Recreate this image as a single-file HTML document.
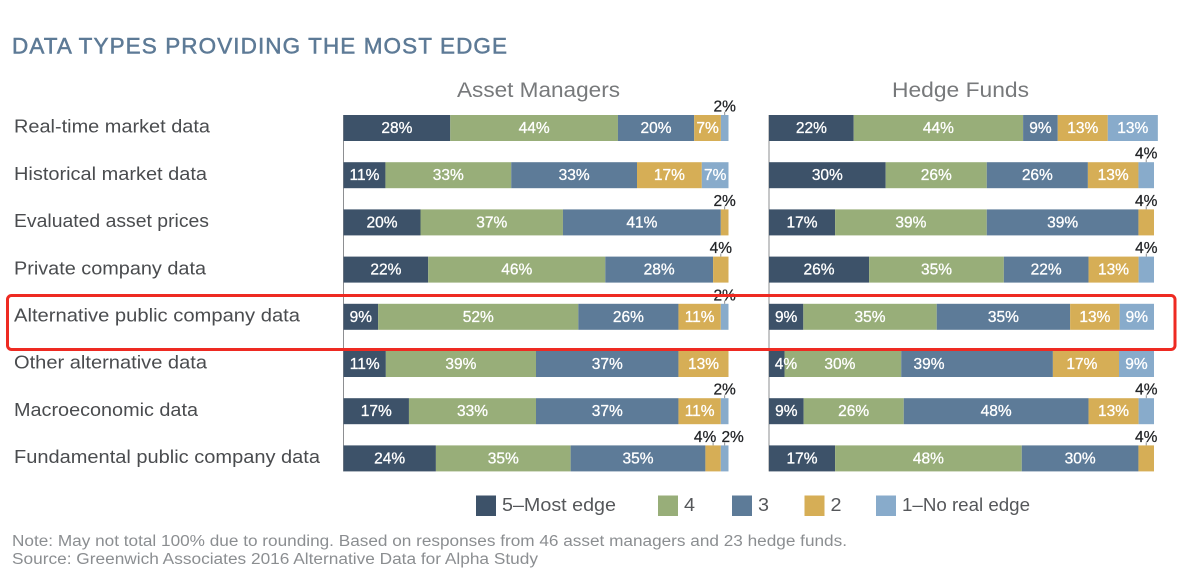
<!DOCTYPE html>
<html lang="en">
<head>
<meta charset="utf-8">
<title>Data types providing the most edge</title>
<style>
  html, body { margin: 0; padding: 0; background: #fff; }
  body { width: 1200px; height: 584px; overflow: hidden; }
  svg { display: block; font-family: "Liberation Sans", sans-serif; }
</style>
</head>
<body>
<svg id="chart" xmlns="http://www.w3.org/2000/svg" width="1200" height="584" viewBox="0 0 1200 584">
  <rect width="1200" height="584" fill="#ffffff"/>
  <text x="12" y="53.5" font-size="22.5" fill="#5d7a96" stroke="#5d7a96" stroke-width="0.5" textLength="495" lengthAdjust="spacing">DATA TYPES PROVIDING THE MOST EDGE</text>
  <text x="457" y="97" font-size="21" fill="#77797b" textLength="163" lengthAdjust="spacingAndGlyphs">Asset Managers</text>
  <text x="892" y="97" font-size="21" fill="#77797b" textLength="137" lengthAdjust="spacingAndGlyphs">Hedge Funds</text>
  <g id="rows"></g>
  <g id="panels"></g>
  <g id="legend"></g>
  <rect x="7.5" y="295.5" width="1167.5" height="54" rx="4" ry="4" fill="none" stroke="#ee2a22" stroke-width="3"/>
  <text x="12" y="546" font-size="15.5" fill="#8b8e91" textLength="835" lengthAdjust="spacingAndGlyphs">Note: May not total 100% due to rounding. Based on responses from 46 asset managers and 23 hedge funds.</text>
  <text x="12" y="564" font-size="15.5" fill="#8b8e91" textLength="526" lengthAdjust="spacingAndGlyphs">Source: Greenwich Associates 2016 Alternative Data for Alpha Study</text>
</svg>
<script>
const categories = ["Real-time market data", "Historical market data", "Evaluated asset prices", "Private company data", "Alternative public company data", "Other alternative data", "Macroeconomic data", "Fundamental public company data"];
const seriesNames = ["5–Most edge", "4", "3", "2", "1–No real edge"];
const seriesColors = ["#3d5269", "#98ae79", "#5d7b98", "#d6ae56", "#88abcb"];

// Each row lists the five ratings in series order; 0 = no segment.
const assetManagers = [
  [28, 44, 20, 7, 2],
  [11, 33, 33, 17, 7],
  [20, 37, 41, 2, 0],
  [22, 46, 28, 4, 0],
  [9, 52, 26, 11, 2],
  [11, 39, 37, 13, 0],
  [17, 33, 37, 11, 2],
  [24, 35, 35, 4, 2]
];
const hedgeFunds = [
  [22, 44, 9, 13, 13],
  [30, 26, 26, 13, 4],
  [17, 39, 39, 4, 0],
  [26, 35, 22, 13, 4],
  [9, 35, 35, 13, 9],
  [4, 30, 39, 17, 9],
  [9, 26, 48, 13, 4],
  [17, 48, 30, 4, 0]
];
// Share of the axis each stacked row reaches, as drawn in the source chart.
const assetManagerRowReach = [100, 100, 100, 100, 100, 100, 100, 100];
const hedgeFundRowReach = [101, 100, 100, 100, 100, 100, 100, 100];

const NS = "http://www.w3.org/2000/svg";
const AXIS_WIDTH = 385, ROW_TOP = 115, ROW_STEP = 47.2, BAR_H = 26;

function make(tag, attrs, parent, text) {
  const el = document.createElementNS(NS, tag);
  for (const k in attrs) el.setAttribute(k, attrs[k]);
  if (text !== undefined) el.textContent = text;
  parent.appendChild(el);
  return el;
}
function rowY(i) { return ROW_TOP + i * ROW_STEP; }
function slug(s) { return s.toLowerCase().replace(/[^a-z0-9]+/g, "-"); }

function drawRowLabels() {
  const rowsG = document.getElementById("rows");
  const fittedWidths = [196, 193, 195, 192, 286, 193, 184, 306];
  categories.forEach(function (name, i) {
    const label = make("text", {
      x: 14, y: rowY(i) + 17.7, textLength: fittedWidths[i],
      lengthAdjust: "spacingAndGlyphs", "font-size": 18, fill: "#4a4c4f"
    }, rowsG, name);
    
    
  });
}
drawRowLabels();

function drawPanel(panelName, x0, rows, reach, nudgeFor) {
  const panelsG = document.getElementById("panels");
  const g = make("g", {}, panelsG);
  
  

  const axis = make("line", {
    x1: x0, x2: x0, y1: rowY(0), y2: rowY(rows.length - 1) + BAR_H,
    stroke: "#8d8f92", "stroke-width": 1
  }, g);
  
  

  rows.forEach(function (values, r) {
    const total = values.reduce(function (a, b) { return a + b; }, 0);
    const x = function (v) { return x0 + (v / total) * AXIS_WIDTH * reach[r] / 100; };
    const y = rowY(r);
    let cum = 0;
    const isOutside = function (idx) { return idx > 0 && values[idx] > 0 && values[idx] <= 4; };
    values.forEach(function (v, s) {
      if (v <= 0) return;
      const xa = x(cum), xb = x(cum + v);
      cum += v;
      const bar = make("rect", {
        x: xa, y: y, width: xb - xa, height: BAR_H, fill: seriesColors[s]
      }, g);
      
      
    });
    cum = 0;
    values.forEach(function (v, s) {
      if (v <= 0) return;
      const xa = x(cum), xb = x(cum + v);
      cum += v;
      const cx = (xa + xb) / 2;
      if (isOutside(s)) {
        let spread = 0;
        if (s > 0 && isOutside(s - 1)) spread = 8;
        if (s < values.length - 1 && isOutside(s + 1)) spread = -8;
        const tick = make("line", {
          x1: cx, x2: cx, y1: y - 3, y2: y, stroke: "#8d8f92", "stroke-width": 1
        }, g);
        
        
        const out = make("text", {
          x: cx + spread, y: y - 3.5, "text-anchor": "middle",
          "font-size": 15.5, fill: "#222427", stroke: "#222427", "stroke-width": 0.25
        }, g, v + "%");
        
        
      } else {
        const inner = make("text", {
          x: Math.max(cx, x0 + 17) + nudgeFor(r, s), y: y + 18, "text-anchor": "middle",
          "font-size": 15.5, fill: "#ffffff", stroke: "#ffffff", "stroke-width": 0.3
        }, g, v + "%");
        
        
      }
    });
  });
}
drawPanel("asset-managers", 343.5, assetManagers, assetManagerRowReach, function () { return 0; });
// The source chart prints a few hedge-fund labels off-centre in the "Other alternative data" row.
drawPanel("hedge-funds", 769, hedgeFunds, hedgeFundRowReach, function (r, s) {
  if (r !== 5) return 0;
  if (s === 1) return -3;
  if (s === 2) return -48;
  if (s === 3) return -4;
  return 0;
});

function drawLegend() {
  const legendG = document.getElementById("legend");
  
  
  const starts = [476, 658, 732, 804.5, 876];
  const textWidths = [114, 11, 11, 11, 128];
  seriesNames.forEach(function (name, i) {
    const sx = starts[i];
    const entry = make("g", {}, legendG);
    
    
    const sw = make("rect", { x: sx, y: 495.5, width: 20, height: 20.5, fill: seriesColors[i] }, entry);
    
    
    const t = make("text", {
      x: sx + 26, y: 511, textLength: textWidths[i], lengthAdjust: "spacingAndGlyphs",
      "font-size": 18, fill: "#55575a"
    }, entry, name);
    
    
  });
}
drawLegend();
</script>
</body>
</html>
